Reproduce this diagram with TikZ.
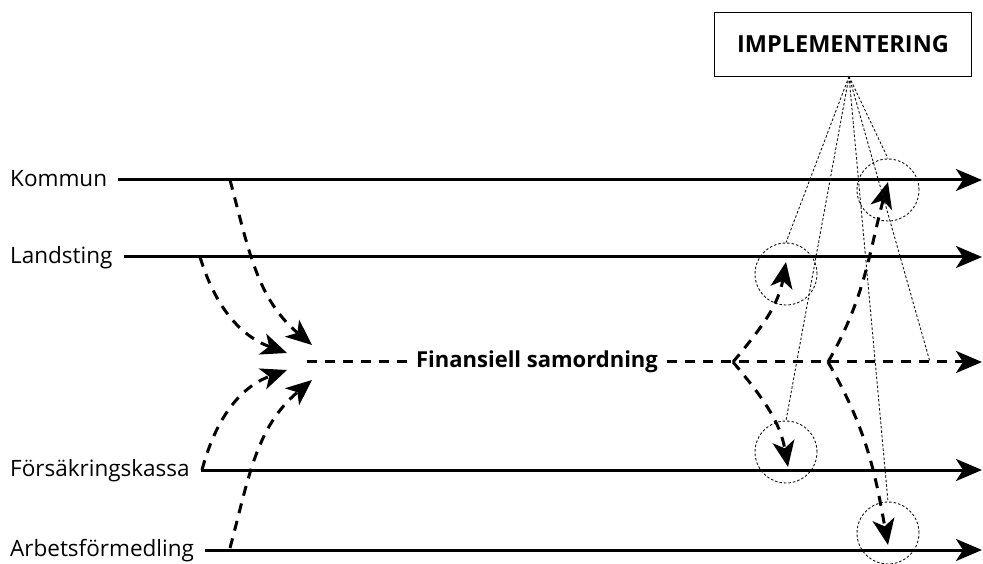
\documentclass[tikz,border=0pt]{standalone}
\usepackage{fontspec}
\setmainfont{Open Sans}
\usepackage{xcolor}
\usepackage{tikz}
\usetikzlibrary{arrows.meta,positioning,calc}
\definecolor{ink}{HTML}{000000}
\definecolor{grey}{HTML}{111111}
\tikzset{
  actor/.style={anchor=base west,inner sep=0pt,font=\fontsize{22.5}{27}\selectfont,text=ink},
  headline/.style={anchor=base,inner xsep=9pt,inner ysep=0pt,font=\fontsize{22}{26}\selectfont\bfseries,text=ink},
  box/.style={draw=ink,line width=0.9pt,minimum width=257pt,minimum height=64pt,inner sep=0pt,font=\fontsize{23.5}{28}\selectfont\bfseries},
  ring/.style={circle,draw=grey,line width=0.9pt,dash pattern=on 2.5pt off 2pt,minimum size=62pt,inner sep=0pt},
  tip/.style={-{Stealth[length=26pt,width=22pt,inset=7pt]}},
  track/.style={tip,line width=3pt,draw=ink,shorten <=11pt},
  fund/.style={line width=3pt,draw=ink,dash pattern=on 10pt off 8pt},
  feed/.style={fund,tip},
  cue/.style={draw=grey,line width=0.9pt,dash pattern=on 2.5pt off 2pt}
}

\begin{document}
\begin{tikzpicture}[x=1pt,y=1pt]
  \useasboundingbox (0,0) rectangle (983,563);

  % the four parties
  \foreach \nm/\txt/\y in {kom/Kommun/383, lan/Landsting/306, fk/Försäkringskassa/93, af/Arbetsförmedling/13} {
    \node[actor] (\nm) at (10,\y-6.5) {\txt};
    \coordinate (\nm-end) at (982,\y);
    \draw[track] (\nm.east |- \nm-end) -- (\nm-end);
  }

  % joint funding line
  \coordinate (hub) at (307,201);
  \coordinate (fin-end) at (982,201);
  \node[headline] (fin) at (537,196) {Finansiell samordning};
  \draw[fund] (hub) -- (fin.west |- hub);
  \draw[feed] (fin.east |- hub) -- (fin-end);

  % money flowing in
  \coordinate (kom-out) at (230,383);
  \coordinate (lan-out) at (200,306);
  \coordinate (fk-out) at (202,93);
  \coordinate (af-out) at (230,15);
  \coordinate (in1) at (312,218);
  \coordinate (in2) at (287,210);
  \coordinate (in3) at (287,193);
  \coordinate (in4) at (312,183);
  \draw[feed] (kom-out) to[out=-75,in=140] (in1);
  \draw[feed] (lan-out) to[out=-73,in=160] (in2);
  \draw[feed] (fk-out) to[out=75,in=200] (in3);
  \draw[feed] (af-out) to[out=75,in=220] (in4);

  % back out to the parties
  \coordinate (split1) at (733,201);
  \coordinate (split2) at (828,201);
  \node[ring] (cL) at (786,289) {};
  \node[ring] (cF) at (786,111) {};
  \node[ring] (cK) at (888,373) {};
  \node[ring] (cA) at (888,30) {};
  \coordinate (lan-tip) at (786,301);
  \coordinate (fk-tip) at (788,96);
  \coordinate (kom-tip) at (888,381);
  \coordinate (af-tip) at (888,18);
  \draw[feed] (split1) to[out=50,in=-100] (lan-tip);
  \draw[feed] (split1) to[out=-50,in=100] (fk-tip);
  \draw[feed] (split2) to[out=60,in=-105] (kom-tip);
  \draw[feed] (split2) to[out=-60,in=100] (af-tip);

  % implementation
  \node[box] (impl) at (843,519) {IMPLEMENTERING};
  \coordinate (apex) at ([xshift=6pt]impl.south);
  \coordinate (mid) at (930,201);
  \foreach \t in {cL,cF,cK,cA} \draw[cue] (apex) -- (\t.north);
  \draw[cue] (apex) -- (mid);
\end{tikzpicture}
\end{document}
